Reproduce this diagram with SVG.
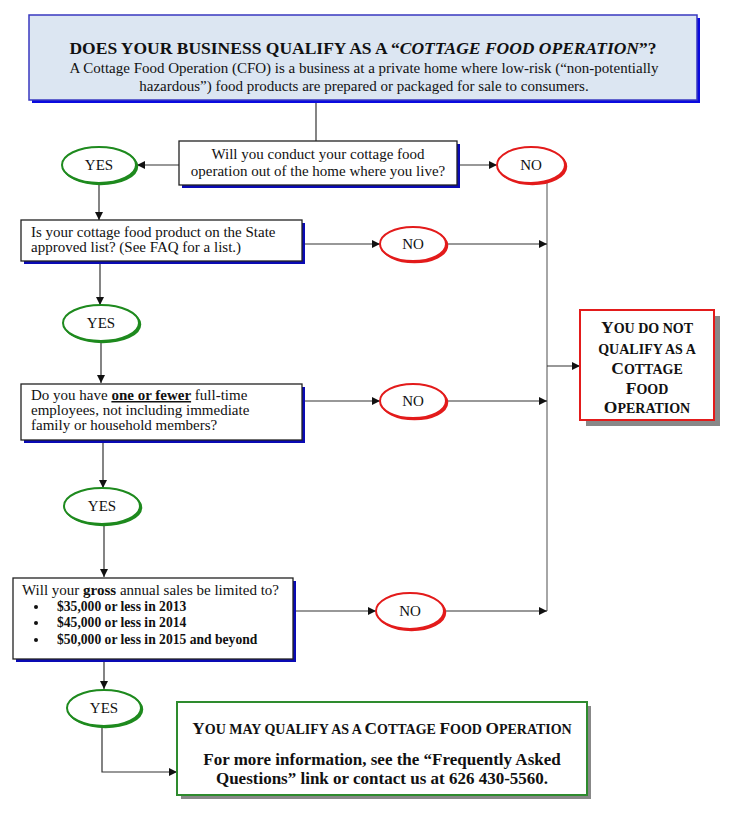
<svg xmlns="http://www.w3.org/2000/svg" width="735" height="817" viewBox="0 0 735 817">
<defs>
<style>
text{font-family:"Liberation Serif","Times New Roman",serif;font-size:15px;fill:#111}
.b{font-weight:bold}
.c{text-anchor:middle}
.sc{font-weight:bold;font-size:17.5px}
.sm{font-size:14px}
.q{fill:#fff;stroke:#222;stroke-width:1.3}
.qs{fill:#0a0ab4}
.ln{fill:none;stroke:#333;stroke-width:1.2}
.gl{fill:none;stroke:#888;stroke-width:1.5}
.ye{fill:#fff;stroke:#1e8a1e;stroke-width:2}
.yes{fill:none;stroke:#1e8a1e;stroke-width:3.5}
.ne{fill:#fff;stroke:#e31b1b;stroke-width:2}
.nes{fill:none;stroke:#e31b1b;stroke-width:3.5}
</style>
<marker id="ar" viewBox="0 0 10 10" refX="10" refY="5" markerWidth="8" markerHeight="8" markerUnits="userSpaceOnUse" orient="auto">
<path d="M0,0 L10,5 L0,10 z" fill="#111"/>
</marker>
</defs>
<rect width="735" height="817" fill="#fff"/>

<g id="connectors">
<path class="ln" d="M316,101 V141"/>
<path class="ln" d="M179,165 H137" marker-end="url(#ar)"/>
<path class="ln" d="M457,165 H497" marker-end="url(#ar)"/>
<path class="gl" d="M547,182 V611"/>
<path class="ln" d="M99,184 V220" marker-end="url(#ar)"/>
<path class="ln" d="M302,244 H380" marker-end="url(#ar)"/>
<path class="ln" d="M447,244 H547" marker-end="url(#ar)"/>
<path class="ln" d="M100,262 V305" marker-end="url(#ar)"/>
<path class="ln" d="M101,342 V383" marker-end="url(#ar)"/>
<path class="ln" d="M302,401 H380" marker-end="url(#ar)"/>
<path class="ln" d="M447,401 H547" marker-end="url(#ar)"/>
<path class="ln" d="M547,366 H580" marker-end="url(#ar)"/>
<path class="ln" d="M103,441 V488" marker-end="url(#ar)"/>
<path class="ln" d="M104,525 V577" marker-end="url(#ar)"/>
<path class="ln" d="M293,611 H376" marker-end="url(#ar)"/>
<path class="ln" d="M445,611 H547" marker-end="url(#ar)"/>
<path class="ln" d="M104,660 V689" marker-end="url(#ar)"/>
<path class="ln" d="M102,727 V772 H177" marker-end="url(#ar)"/>
</g>

<g id="title">
<rect x="32" y="18" width="668" height="85" fill="#0a0ae0"/>
<rect x="29" y="15" width="668" height="85" fill="#dce6f2" stroke="#3838c0" stroke-width="1.5"/>
<text x="363" y="54" class="c b" style="font-size:17.5px">DOES YOUR BUSINESS QUALIFY AS A “<tspan font-style="italic">COTTAGE FOOD OPERATION</tspan>”?</text>
<text x="364" y="73" class="c">A Cottage Food Operation (CFO) is a business at a private home where low-risk (“non-potentially</text>
<text x="364" y="91" class="c">hazardous”) food products are prepared or packaged for sale to consumers.</text>
</g>

<g id="q1">
<rect x="182" y="144" width="278" height="44" class="qs"/>
<rect x="179" y="141" width="278" height="44" class="q"/>
<text x="318" y="159" class="c">Will you conduct your cottage food</text>
<text x="318" y="176" class="c">operation out of the home where you live?</text>
</g>

<g id="yes1">
<ellipse cx="100.5" cy="166.5" rx="36" ry="17" class="yes"/>
<ellipse cx="99" cy="165" rx="37" ry="18" class="ye"/>
<text x="99" y="170" class="c">YES</text>
</g>

<g id="no1">
<ellipse cx="532.5" cy="166.5" rx="33" ry="17" class="nes"/>
<ellipse cx="531" cy="165" rx="34" ry="18" class="ne"/>
<text x="531" y="170" class="c">NO</text>
</g>

<g id="q2">
<rect x="24" y="223" width="281" height="41" class="qs"/>
<rect x="21" y="220" width="281" height="41" class="q"/>
<text x="31" y="237">Is your cottage food product on the State</text>
<text x="31" y="252">approved list? (See FAQ for a list.)</text>
</g>

<g id="no2">
<ellipse cx="414.5" cy="245.5" rx="32" ry="16" class="nes"/>
<ellipse cx="413" cy="244" rx="33" ry="17" class="ne"/>
<text x="413" y="249" class="c">NO</text>
</g>

<g id="yes2">
<ellipse cx="102.5" cy="324.5" rx="37" ry="17" class="yes"/>
<ellipse cx="101" cy="323" rx="38" ry="18" class="ye"/>
<text x="101" y="328" class="c">YES</text>
</g>

<g id="q3">
<rect x="24" y="387" width="281" height="56" class="qs"/>
<rect x="21" y="384" width="281" height="56" class="q"/>
<text x="31" y="400">Do you have <tspan class="b" text-decoration="underline">one or fewer</tspan> full-time</text>
<text x="31" y="415">employees, not including immediate</text>
<text x="31" y="430">family or household members?</text>
</g>

<g id="no3">
<ellipse cx="414.5" cy="402.5" rx="32" ry="16" class="nes"/>
<ellipse cx="413" cy="401" rx="33" ry="17" class="ne"/>
<text x="413" y="406" class="c">NO</text>
</g>

<g id="yes3">
<ellipse cx="103.5" cy="507.5" rx="37" ry="17" class="yes"/>
<ellipse cx="102" cy="506" rx="38" ry="18" class="ye"/>
<text x="102" y="511" class="c">YES</text>
</g>

<g id="q4">
<rect x="16" y="581" width="280" height="81" class="qs"/>
<rect x="13" y="578" width="280" height="81" class="q"/>
<text x="22" y="595">Will your <tspan class="b">gross</tspan> annual sales be limited to?</text>
<circle cx="36" cy="607" r="2" fill="#111"/>
<circle cx="36" cy="623" r="2" fill="#111"/>
<circle cx="36" cy="640" r="2" fill="#111"/>
<text x="57" y="611" class="b" style="font-size:13.6px">$35,000 or less in 2013</text>
<text x="57" y="627" class="b" style="font-size:13.6px">$45,000 or less in 2014</text>
<text x="57" y="644" class="b" style="font-size:13.6px">$50,000 or less in 2015 and beyond</text>
</g>

<g id="no4">
<ellipse cx="411.5" cy="612.5" rx="33" ry="17" class="nes"/>
<ellipse cx="410" cy="611" rx="34" ry="18" class="ne"/>
<text x="410" y="616" class="c">NO</text>
</g>

<g id="yes4">
<ellipse cx="105.5" cy="709.5" rx="36" ry="17" class="yes"/>
<ellipse cx="104" cy="708" rx="37" ry="18" class="ye"/>
<text x="104" y="713" class="c">YES</text>
</g>

<g id="qualify">
<rect x="181" y="706" width="410" height="93" fill="#888"/>
<rect x="177" y="702" width="410" height="93" fill="#fff" stroke="#2e8b2e" stroke-width="2"/>
<text x="382" y="734" class="c sc" style="font-size:17.3px">Y<tspan class="sm">OU MAY QUALIFY AS A </tspan>C<tspan class="sm">OTTAGE </tspan>F<tspan class="sm">OOD </tspan>O<tspan class="sm">PERATION</tspan></text>
<text x="382" y="765" class="c b" style="font-size:17px">For more information, see the “Frequently Asked</text>
<text x="382" y="784" class="c b" style="font-size:17px">Questions” link or contact us at 626 430-5560.</text>
</g>

<g id="notqualify">
<rect x="586" y="316" width="134" height="110" fill="#888"/>
<rect x="580" y="310" width="134" height="110" fill="#fff" stroke="#e31b1b" stroke-width="2"/>
<text x="647" y="333" class="c sc">Y<tspan class="sm">OU DO NOT</tspan></text>
<text x="647" y="354" class="c sc"><tspan class="sm">QUALIFY AS A</tspan></text>
<text x="647" y="374" class="c sc">C<tspan class="sm">OTTAGE</tspan></text>
<text x="647" y="394" class="c sc">F<tspan class="sm">OOD</tspan></text>
<text x="647" y="413" class="c sc">O<tspan class="sm">PERATION</tspan></text>
</g>
</svg>
